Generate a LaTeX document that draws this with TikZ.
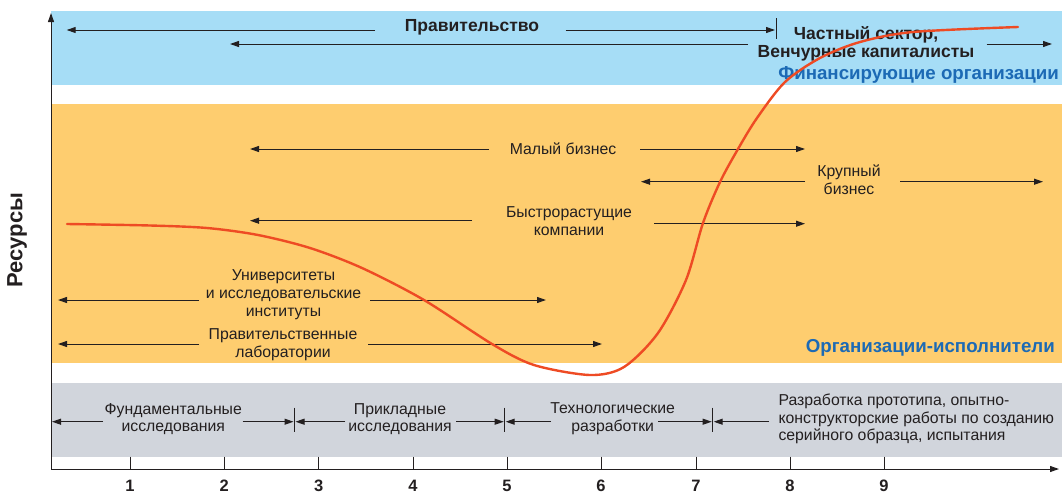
\documentclass[tikz,border=0pt]{standalone}
\usepackage{fontspec}
\setmainfont{Liberation Sans}
\usetikzlibrary{arrows.meta}
\definecolor{bandblue}{HTML}{A6DDF6}
\definecolor{bandorange}{HTML}{FECD6F}
\definecolor{bandgray}{HTML}{D1D5DC}
\definecolor{curvered}{HTML}{EE4B24}
\definecolor{headblue}{HTML}{1C6AB5}
\definecolor{dark}{HTML}{231F20}
\tikzset{
  txt/.style={font=\fontsize{15.8}{17.7}\selectfont, align=center, inner sep=0pt, text=dark},
  hd/.style={font=\bfseries\fontsize{17.5}{18}\selectfont, align=center, inner sep=0pt, text=dark},
  bluehd/.style={font=\bfseries\fontsize{18.7}{19}\selectfont, inner sep=0pt, text=headblue},
  num/.style={font=\bfseries\fontsize{16.5}{17}\selectfont, inner sep=0pt, text=dark},
  arr/.style={-{Triangle[length=9pt,width=6pt]}, line width=1pt, draw=dark},
  plain/.style={line width=1pt, draw=dark},
}
\begin{document}
\begin{tikzpicture}[x=1pt,y=-1pt]
\useasboundingbox (0,0) rectangle (1062,493);
% bands
\fill[bandblue] (51,11) rectangle (1062,85);
\fill[bandorange] (51,104) rectangle (1062,362.7);
\fill[bandgray] (51,382.7) rectangle (1062,456.7);

% axes
\coordinate (O) at (51,469);
\coordinate (Ytop) at (51,13);
\coordinate (Xend) at (1059,469);
\draw[arr] (O) -- (Ytop);
\draw[arr] (O) -- (Xend);
\node[font=\bfseries\fontsize{22}{24}\selectfont, rotate=90, inner sep=0pt, text=dark] (res) at (17,240) {Ресурсы};

% ticks and numbers
\foreach \x/\n in {130/1,224.3/2,318.7/3,413/4,507/5,601/6,696/7,790/8,884/9}{
  \draw[plain] (\x,456.7) -- (\x,469);
  \node[num] (n\n) at (\x,485.5) {\n};
}

% ---- blue band
\node[hd] (gov) at (472,27) {Правительство};
\coordinate (govL1a) at (375,30);
\coordinate (govL1b) at (66.7,30);
\coordinate (govR1a) at (565.6,30);
\coordinate (govR1b) at (775,30);
\draw[arr] (govL1a) -- (govL1b);
\draw[arr] (govR1a) -- (govR1b);
\coordinate (barT) at (776,18);
\coordinate (barB) at (776,39);
\draw[plain] (barT) -- (barB);
\coordinate (gov2a) at (748,44);
\coordinate (gov2b) at (230,44);
\draw[arr] (gov2a) -- (gov2b);
\node[hd] (priv) at (866,44) {Частный сектор,\\Венчурные капиталисты};
\coordinate (privRa) at (986.7,44);
\coordinate (privRb) at (1052,44);
\draw[arr] (privRa) -- (privRb);
\node[bluehd, anchor=east] (fin) at (1059,75) {Финансирующие организации};

% ---- orange band
\node[txt] (small) at (563,149) {Малый бизнес};
\coordinate (smLa) at (489,149);
\coordinate (smLb) at (250,149);
\coordinate (smRa) at (640,149);
\coordinate (smRb) at (805,149);
\draw[arr] (smLa) -- (smLb);
\draw[arr] (smRa) -- (smRb);

\node[txt] (big) at (849,179.5) {Крупный\\бизнес};
\coordinate (bgLa) at (805,181.7);
\coordinate (bgLb) at (641,181.7);
\coordinate (bgRa) at (900,181.7);
\coordinate (bgRb) at (1043,181.7);
\draw[arr] (bgLa) -- (bgLb);
\draw[arr] (bgRa) -- (bgRb);

\node[txt] (fast) at (569,221) {Быстрорастущие\\компании};
\coordinate (fsLa) at (472,220.7);
\coordinate (fsLb) at (250,220.7);
\coordinate (fsRa) at (654,223.7);
\coordinate (fsRb) at (805,223.7);
\draw[arr] (fsLa) -- (fsLb);
\draw[arr] (fsRa) -- (fsRb);

\node[txt] (univ) at (283.5,294.7) {Университеты\\и исследовательские\\институты};
\coordinate (unLa) at (199,300);
\coordinate (unLb) at (58,300);
\coordinate (unRa) at (370,300);
\coordinate (unRb) at (546,300);
\draw[arr] (unLa) -- (unLb);
\draw[arr] (unRa) -- (unRb);

\node[txt] (lab) at (283,344.5) {Правительственные\\лаборатории};
\coordinate (lbLa) at (199,344);
\coordinate (lbLb) at (58,344);
\coordinate (lbRa) at (368,344);
\coordinate (lbRb) at (602,344);
\draw[arr] (lbLa) -- (lbLb);
\draw[arr] (lbRa) -- (lbRb);

\node[bluehd, anchor=east] (exe) at (1055,347.7) {Организации-исполнители};

% ---- gray band
\node[txt] (fund) at (173.3,419) {Фундаментальные\\исследования};
\coordinate (fuLa) at (103,421.7);
\coordinate (fuLb) at (52,421.7);
\coordinate (fuRa) at (242.7,421.7);
\coordinate (fuRb) at (293.5,421.7);
\draw[arr] (fuLa) -- (fuLb);
\draw[arr] (fuRa) -- (fuRb);
\coordinate (b1T) at (294.5,407.7);
\coordinate (b1B) at (294.5,431.7);
\draw[plain] (b1T) -- (b1B);

\node[txt] (appl) at (400,419) {Прикладные\\исследования};
\coordinate (apLa) at (345.4,421.7);
\coordinate (apLb) at (295.5,421.7);
\coordinate (apRa) at (456,421.7);
\coordinate (apRb) at (503.7,421.7);
\draw[arr] (apLa) -- (apLb);
\draw[arr] (apRa) -- (apRb);
\coordinate (b2T) at (504.7,407.7);
\coordinate (b2B) at (504.7,431.7);
\draw[plain] (b2T) -- (b2B);

\node[txt] (tech) at (612.7,419) {Технологические\\разработки};
\coordinate (teLa) at (551,421.7);
\coordinate (teLb) at (505.7,421.7);
\coordinate (teRa) at (658,421.7);
\coordinate (teRb) at (711.7,421.7);
\draw[arr] (teLa) -- (teLb);
\draw[arr] (teRa) -- (teRb);
\coordinate (b3T) at (712.7,407.7);
\coordinate (b3B) at (712.7,431.7);
\draw[plain] (b3T) -- (b3B);

\node[txt, align=left, anchor=west] (proto) at (778.3,419) {Разработка прототипа, опытно-\\конструкторские работы по созданию\\серийного образца, испытания};
\coordinate (prLa) at (769,421.7);
\coordinate (prLb) at (713.7,421.7);
\draw[arr] (prLa) -- (prLb);

% ---- curve
\draw[curvered, line width=2.4pt, line cap=round] plot[smooth, tension=0.5] coordinates {
 (67,224) (150,225.5) (207,228) (258,235) (310,248) (362,268) (424,300)
 (492,344) (534,365) (590,375) (624,367) (658,333) (686,280) (703,223)
 (720,182) (738,149) (757,118) (785,82) (820,58) (860,42) (913,32) (1018,27)};
\end{tikzpicture}
\end{document}
